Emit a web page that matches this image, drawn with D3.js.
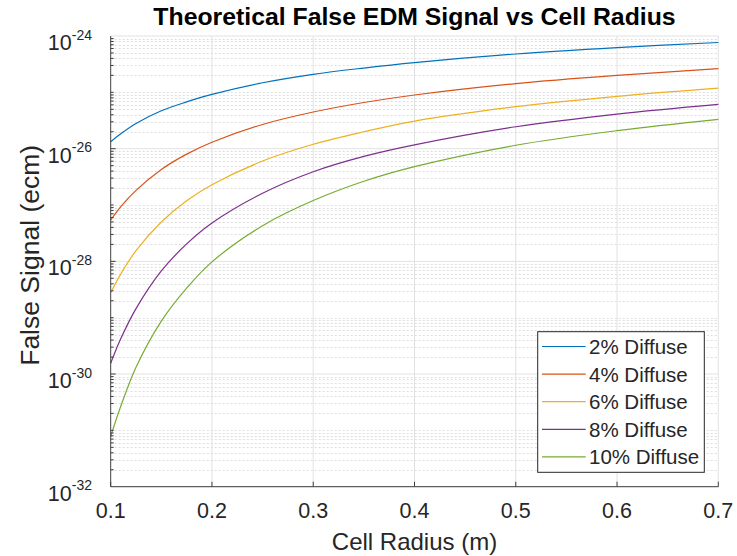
<!DOCTYPE html>
<html>
<head>
<meta charset="utf-8">
<script src="https://cdn.jsdelivr.net/npm/d3@7"></script>
<style>
  body { margin: 0; background: #fff; }
  text { font-family: "Liberation Sans", Arial, sans-serif; fill: #262626; }
</style>
</head>
<body>
<svg id="chart" width="737" height="556"></svg>
<script>
// values
const radius = [0.1, 0.11, 0.125, 0.15, 0.175, 0.2, 0.25, 0.3, 0.35, 0.4, 0.5, 0.6, 0.7];
const diffuse2 = [1.33e-26, 1.84e-26, 2.8e-26, 4.7e-26, 6.76e-26, 9.2e-26, 1.48e-25, 2.09e-25, 2.70e-25, 3.37e-25, 4.79e-25, 6.21e-25, 7.67e-25];
const diffuse4 = [5.42e-28, 9.4e-28, 1.82e-27, 4.27e-27, 8.0e-27, 1.30e-26, 2.69e-26, 4.47e-26, 6.6e-26, 8.97e-26, 1.43e-25, 2.0e-25, 2.63e-25];
const diffuse6 = [2.77e-29, 6.0e-29, 1.55e-28, 5.0e-28, 1.19e-27, 2.29e-27, 6.03e-27, 1.20e-26, 2.0e-26, 3.09e-26, 5.56e-26, 8.51e-26, 1.19e-25];
const diffuse8 = [1.55e-30, 4.26e-30, 1.45e-29, 6.76e-29, 2.04e-28, 4.8e-28, 1.62e-27, 3.9e-27, 7.3e-27, 1.17e-26, 2.45e-26, 4.12e-26, 6.12e-26];
const diffuse10 = [7.8e-32, 2.7e-31, 1.32e-30, 8.7e-30, 3.35e-29, 9.8e-29, 4.3e-28, 1.2e-27, 2.64e-27, 4.8e-27, 1.15e-26, 2.09e-26, 3.32e-26];

const seriesNames = ['2% Diffuse', '4% Diffuse', '6% Diffuse', '8% Diffuse', '10% Diffuse'];
const seriesColors = ['#0072BD', '#D95319', '#EDB120', '#7E2F8E', '#77AC30'];
const xTicks = [0.1, 0.2, 0.3, 0.4, 0.5, 0.6, 0.7];
const yTickExps = [-24, -26, -28, -30, -32];

const series = [diffuse2, diffuse4, diffuse6, diffuse8, diffuse10];

const margin = { left: 110.7, right: 718.3, top: 36, bottom: 486.7 };
const svg = d3.select('#chart');

const x = d3.scaleLinear().domain([0.1, 0.7]).range([margin.left, margin.right]);
const y = d3.scaleLog().domain([1e-32, 1e-24]).range([margin.bottom, margin.top]);

const majorY = yTickExps.map(e => Math.pow(10, e));
const isMajor = v => majorY.some(m => Math.abs(Math.log10(v) - Math.log10(m)) < 1e-6);
const minorY = y.ticks().filter(v => !isMajor(v));

// minor grid (dotted)
svg.append('g')
    .selectAll('line')
    .data(minorY)
    .enter().append('line')
    .attr('x1', margin.left).attr('x2', margin.right)
    .attr('y1', d => Math.round(y(d)) + 0.5).attr('y2', d => Math.round(y(d)) + 0.5)
    .attr('stroke', '#dedede')
    .attr('stroke-dasharray', '2,2');

// major grid
const grid = svg.append('g').attr('stroke', '#e2e2e2');
grid.selectAll('.gy')
    .data(majorY)
    .enter().append('line')
    .attr('x1', margin.left).attr('x2', margin.right)
    .attr('y1', d => y(d)).attr('y2', d => y(d));
grid.selectAll('.gx')
    .data(xTicks.slice(1))
    .enter().append('line')
    .attr('x1', d => x(d)).attr('x2', d => x(d))
    .attr('y1', margin.top).attr('y2', margin.bottom);

// curves
const line = d3.line()
    .x((d, i) => x(radius[i]))
    .y(d => y(d))
    .curve(d3.curveCatmullRom.alpha(0.5));

svg.append('g')
    .selectAll('path')
    .data(series)
    .enter().append('path')
    .attr('d', line)
    .attr('fill', 'none')
    .attr('stroke', (d, i) => seriesColors[i])
    .attr('stroke-width', 1.2);

// axes
const axisColor = '#404040';
svg.append('line')
    .attr('x1', margin.left).attr('x2', margin.left)
    .attr('y1', margin.top).attr('y2', margin.bottom)
    .attr('stroke', axisColor);
svg.append('line')
    .attr('x1', margin.left).attr('x2', margin.right)
    .attr('y1', margin.bottom).attr('y2', margin.bottom)
    .attr('stroke', axisColor);

// ticks (inward)
svg.append('g').selectAll('line')
    .data(xTicks)
    .enter().append('line')
    .attr('x1', d => x(d)).attr('x2', d => x(d))
    .attr('y1', margin.bottom).attr('y2', margin.bottom - 5)
    .attr('stroke', axisColor);
svg.append('g').selectAll('line')
    .data(y.ticks())
    .enter().append('line')
    .attr('x1', margin.left).attr('x2', d => margin.left + (isMajor(d) ? 5 : 3))
    .attr('y1', d => y(d)).attr('y2', d => y(d))
    .attr('stroke', axisColor);

// tick labels
svg.append('g').selectAll('text')
    .data(xTicks)
    .enter().append('text')
    .attr('x', d => x(d))
    .attr('y', margin.bottom + 31.5)
    .attr('text-anchor', 'middle')
    .style('font-size', '21.5px')
    .text(d => d3.format('.1f')(d));

const yLabels = svg.append('g').selectAll('text')
    .data(yTickExps)
    .enter().append('text')
    .attr('x', 92)
    .attr('y', d => y(Math.pow(10, d)) + 14)
    .attr('text-anchor', 'end');
yLabels.append('tspan').style('font-size', '21.5px').text('10');
yLabels.append('tspan').style('font-size', '14px').attr('dy', -10.5).text(d => '-' + Math.abs(d));

// title and axis labels
svg.append('text')
    .attr('x', (margin.left + margin.right) / 2)
    .attr('y', 25)
    .attr('text-anchor', 'middle')
    .style('font-size', '24.8px')
    .style('font-weight', 'bold')
    .style('fill', '#000')
    .text('Theoretical False EDM Signal vs Cell Radius');

svg.append('text')
    .attr('x', (margin.left + margin.right) / 2)
    .attr('y', 550)
    .attr('text-anchor', 'middle')
    .style('font-size', '24px')
    .text('Cell Radius (m)');

svg.append('text')
    .attr('transform', `translate(38.5,${(margin.top + margin.bottom) / 2 - 6}) rotate(-90)`)
    .attr('text-anchor', 'middle')
    .style('font-size', '26.5px')
    .text('False Signal (ecm)');

// legend
const legend = svg.append('g');
legend.append('rect')
    .attr('x', 537.7).attr('y', 331.7)
    .attr('width', 166.6).attr('height', 140.6)
    .attr('fill', '#fff')
    .attr('stroke', '#262626');

const rows = legend.selectAll('g.row')
    .data(seriesNames)
    .enter().append('g')
    .attr('transform', (d, i) => `translate(0,${346.5 + i * 27.6})`);
rows.append('line')
    .attr('x1', 542).attr('x2', 585.7)
    .attr('y1', 0).attr('y2', 0)
    .attr('stroke', (d, i) => seriesColors[i])
    .attr('stroke-width', 1.2);
rows.append('text')
    .attr('x', 589)
    .attr('y', 7.5)
    .style('font-size', '20.5px')
    .text(d => d);
</script>
</body>
</html>
